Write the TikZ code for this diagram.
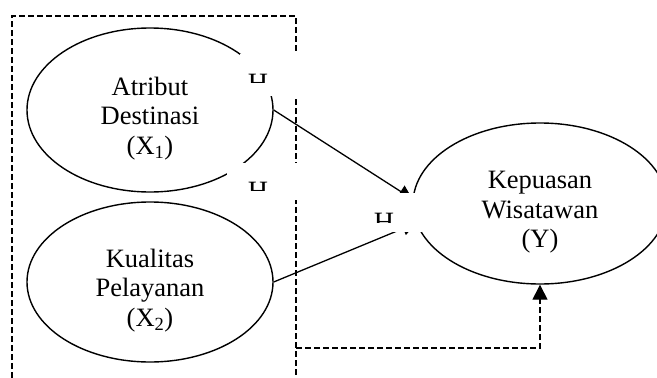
\documentclass[tikz,border=0pt]{standalone}
\usepackage{fontspec}
\setmainfont{Liberation Serif}
\usetikzlibrary{shapes.geometric,arrows.meta}
\begin{document}
\begin{tikzpicture}[x=1pt,y=-1pt,
  txt/.style={font=\fontsize{26.5}{29.5}\selectfont},
  var/.style={ellipse,draw,line width=1.4pt,inner sep=0pt,align=center,txt},
  conn/.style={line width=1.3pt,-{Triangle[length=14pt,width=14pt]}},
  dashline/.style={line width=1.4pt,dash pattern=on 6pt off 3pt},
  cover/.style={fill=white,draw=none},
  hlab/.style={font=\fontsize{28}{30}\selectfont,inner sep=0pt,anchor=base}]
\useasboundingbox (0,0) rectangle (657,378);
% variables
\node[var,minimum width=246pt,minimum height=164pt] (e1) at (150,110) {\rule{0pt}{0pt}\\[6pt]Atribut\\Destinasi\\(X\textsubscript{1})};
\node[var,minimum width=246pt,minimum height=160pt] (e2) at (150,282) {\rule{0pt}{0pt}\\[6pt]Kualitas\\Pelayanan\\(X\textsubscript{2})};
\node[var,minimum width=254pt,minimum height=161pt] (e3) at (540,203.5) {\rule{0pt}{0pt}\\[6pt]Kepuasan\\Wisatawan\\(Y)};
% connectors
\draw[conn] (e1.east) -- (e3.178.4);
\draw[conn] (e2.east) -- (e3.189.3);
% dashed frame
\coordinate (fa) at (12,378);
\coordinate (fb) at (12,16);
\coordinate (fc) at (296,16);
\coordinate (fd) at (296,378);
\draw[dashline] (fa) -- (fb) -- (fc) -- (fd);
\coordinate (c) at (296,348);
\draw[dashline,-{Triangle[length=15pt,width=15pt]}] (c) -| (e3.south);
% label boxes (partly hidden labels)
\fill[cover] (240,54) rectangle (300,96);
\fill[cover] (227,163) rectangle (300,200);
\fill[cover] (365,193) rectangle (422,232);
\begin{scope}
\clip (240,54) rectangle (300,82);
\node[hlab] (h1) at (258,92.5) {H};
\end{scope}
\begin{scope}
\clip (227,163) rectangle (300,190);
\node[hlab] (h2) at (258,200.5) {H};
\end{scope}
\begin{scope}
\clip (365,193) rectangle (422,222);
\node[hlab] (h3) at (384,231.5) {H};
\end{scope}
\end{tikzpicture}
\end{document}
